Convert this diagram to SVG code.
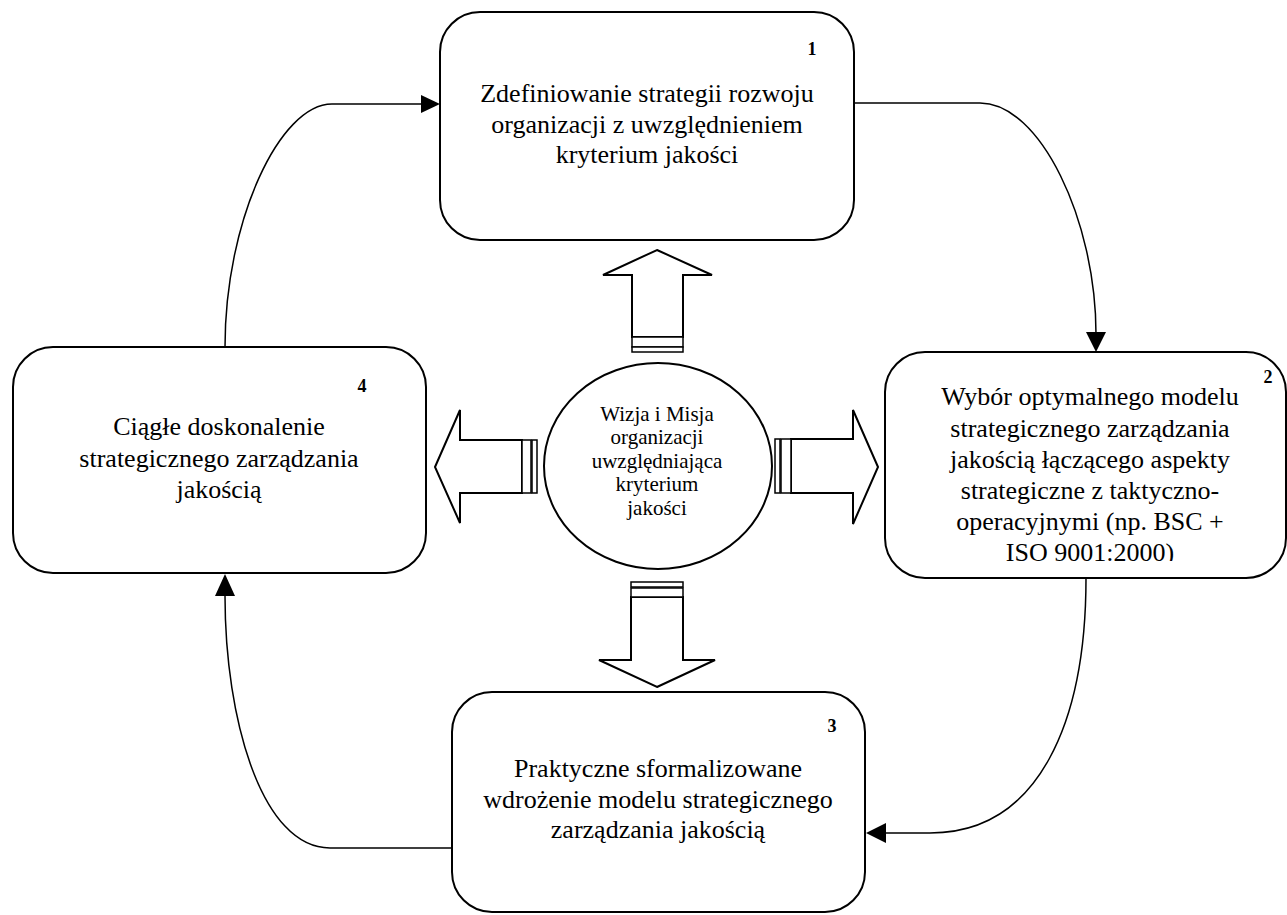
<svg xmlns="http://www.w3.org/2000/svg" width="1287" height="915" viewBox="0 0 1287 915">
<style>
.box{fill:#fff;stroke:#000;stroke-width:2}
.t{font-family:"Liberation Serif","Times New Roman",serif;font-size:26px;fill:#000;text-anchor:middle}
.ct{font-family:"Liberation Serif","Times New Roman",serif;font-size:21px;fill:#000;text-anchor:middle}
.n{font-family:"Liberation Serif","Times New Roman",serif;font-size:18px;font-weight:bold;fill:#000;text-anchor:middle}
.blk{fill:#fff;stroke:#000;stroke-width:2;stroke-linejoin:miter}
.stripe{fill:#fff;stroke:#000;stroke-width:1.5}
.con{fill:none;stroke:#000;stroke-width:1.5}
.head{fill:#000;stroke:none}
</style>
<defs>
<clipPath id="clip2"><rect x="885" y="352" width="402" height="209"/></clipPath>
</defs>
<rect width="1287" height="915" fill="#fff"/>

<g id="connectors">
<path class="con" d="M854,103 L980,103 C1040,103 1096,220 1096,334"/>
<polygon class="head" points="1096,352 1086,332 1106,332"/>
<path class="con" d="M1086,578 C1086,720 1040,833 930,833 L884,833"/>
<polygon class="head" points="866,833 886,823 886,843"/>
<path class="con" d="M452,848 L330,848 C262,848 225,720 225,596"/>
<polygon class="head" points="225,574 215,596 235,596"/>
<path class="con" d="M225,347 C225,220 280,104 332,104 L424,104"/>
<polygon class="head" points="440,104 421,95 421,113"/>
</g>

<g id="arrow-up">
<polygon class="blk" points="657,250 712,275 683,275 683,337 632,337 632,275 603,275"/>
<rect class="stripe" x="632" y="337" width="51" height="10"/>
<rect class="stripe" x="632" y="347" width="51" height="5"/>
</g>
<g id="arrow-down">
<polygon class="blk" points="657,687 715,660 683,660 683,597 631,597 631,660 599,660"/>
<rect class="stripe" x="631" y="588" width="52" height="9"/>
<rect class="stripe" x="631" y="582" width="52" height="5"/>
</g>
<g id="arrow-left">
<polygon class="blk" points="435,467 460,410 460,440 522,440 522,493 460,493 460,523"/>
<rect class="stripe" x="522" y="440" width="9" height="53"/>
<rect class="stripe" x="532" y="440" width="5" height="53"/>
</g>
<g id="arrow-right">
<polygon class="blk" points="878,467 853,410 853,439 791,439 791,493 853,493 853,524"/>
<rect class="stripe" x="781" y="439" width="10" height="54"/>
<rect class="stripe" x="775" y="439" width="5" height="54"/>
</g>

<g id="node-center">
<ellipse class="box" cx="658" cy="466" rx="114" ry="103"/>
<text class="ct" x="657" y="421">Wizja i Misja</text>
<text class="ct" x="657" y="444">organizacji</text>
<text class="ct" x="657" y="468">uwzględniająca</text>
<text class="ct" x="657" y="491">kryterium</text>
<text class="ct" x="657" y="515">jakości</text>
</g>

<g id="node-1">
<rect class="box" x="440" y="12" width="414" height="228" rx="40" ry="40"/>
<text class="n" x="812" y="55">1</text>
<text class="t" x="647" y="102">Zdefiniowanie strategii rozwoju</text>
<text class="t" x="647" y="133">organizacji z uwzględnieniem</text>
<text class="t" x="647" y="163">kryterium jakości</text>
</g>

<g id="node-2">
<rect class="box" x="885" y="352" width="401" height="226" rx="40" ry="40"/>
<text class="n" x="1268" y="383">2</text>
<g clip-path="url(#clip2)">
<text class="t" x="1090" y="405">Wybór optymalnego modelu</text>
<text class="t" x="1090" y="437">strategicznego zarządzania</text>
<text class="t" x="1090" y="468">jakością łączącego aspekty</text>
<text class="t" x="1090" y="499">strategiczne z taktyczno-</text>
<text class="t" x="1090" y="530">operacyjnymi (np. BSC +</text>
<text class="t" x="1090" y="561">ISO 9001:2000)</text>
</g>
</g>

<g id="node-3">
<rect class="box" x="452" y="692" width="413" height="220" rx="40" ry="40"/>
<text class="n" x="832" y="732">3</text>
<text class="t" x="658" y="777">Praktyczne sformalizowane</text>
<text class="t" x="658" y="808">wdrożenie modelu strategicznego</text>
<text class="t" x="658" y="838">zarządzania jakością</text>
</g>

<g id="node-4">
<rect class="box" x="13" y="347" width="413" height="226" rx="40" ry="40"/>
<text class="n" x="362" y="392">4</text>
<text class="t" x="219" y="435">Ciągłe doskonalenie</text>
<text class="t" x="219" y="467">strategicznego zarządzania</text>
<text class="t" x="219" y="498">jakością</text>
</g>
</svg>
